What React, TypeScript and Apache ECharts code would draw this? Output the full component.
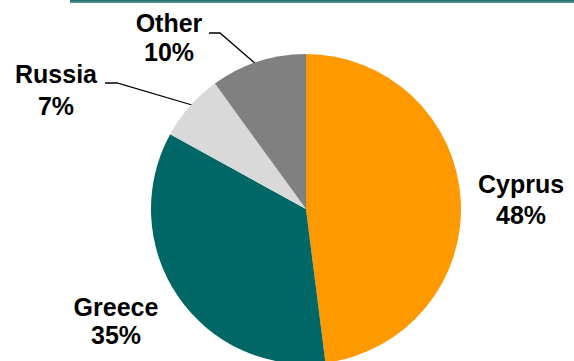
import React, { useEffect, useRef } from "react";
import * as echarts from "echarts";

const categories = ["Cyprus", "Greece", "Russia", "Other"];
const shares = [48, 35, 7, 10];
const colors = ["#FF9900", "#006666", "#D9D9D9", "#808080"];

// label layout (text block centre, line height, leader line points)
const labelPlacement: Record<string, { x: number; y: number; lh: number; line?: number[][] }> = {
  Cyprus: { x: 521, y: 199, lh: 31 },
  Greece: { x: 116, y: 321, lh: 28 },
  Russia: { x: 56, y: 90, lh: 32, line: [[192, 105], [117, 83], [105, 83]] },
  Other: { x: 169, y: 37, lh: 29, line: [[257, 65], [220, 33], [209, 33]] },
};

export default function App() {
  const ref = useRef<HTMLDivElement>(null);
  useEffect(() => {
    if (!ref.current) return;
    const chart = echarts.init(ref.current, undefined, { renderer: "svg" });
    chart.setOption({
      animation: false,
      backgroundColor: "#ffffff",
      graphic: [
        {
          type: "rect",
          shape: { x: 70, y: 0, width: 504, height: 3 },
          style: {
            fill: new echarts.graphic.LinearGradient(0, 0, 0, 1, [
              { offset: 0, color: "#1f6a6a" },
              { offset: 1, color: "#5c9c9c" },
            ]),
          },
        },
      ],
      series: [
        {
          type: "pie",
          center: [306, 209],
          radius: [0, 155],
          startAngle: 90,
          clockwise: true,
          avoidLabelOverlap: false,
          itemStyle: { borderWidth: 0 },
          label: {
            show: true,
            formatter: "{b}\n{c}%",
            fontFamily: "Liberation Sans, Arial, sans-serif",
            fontWeight: "bold",
            fontSize: 25,
            color: "#000000",
            align: "center",
          },
          labelLine: {
            show: true,
            lineStyle: { color: "#000000", width: 1.3 },
          },
          labelLayout: (params: any) => {
            const name = categories[params.dataIndex];
            const p = labelPlacement[name];
            const out: any = {
              x: p.x,
              y: p.y,
              align: "center",
              verticalAlign: "middle",
            };
            if (p.line) out.labelLinePoints = p.line;
            return out;
          },
          data: categories.map((name, i) => {
            const p = labelPlacement[name];
            return {
              name,
              value: shares[i],
              itemStyle: { color: colors[i] },
              label: { lineHeight: p.lh },
              labelLine: { show: !!p.line },
            };
          }),
        },
      ],
    });
    return () => chart.dispose();
  }, []);
  return (
    <div
      ref={ref}
      style={{ position: "fixed", left: 0, top: 0, width: 574, height: 361 }}
    />
  );
}
